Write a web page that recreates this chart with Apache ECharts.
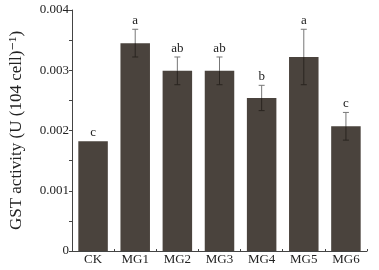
<!DOCTYPE html>
<html><head><meta charset="utf-8">
<script src="https://cdn.jsdelivr.net/npm/echarts@6/dist/echarts.min.js"></script>
<style>html,body{margin:0;padding:0;background:#fff}#c{width:379px;height:270px}</style>
</head><body><div id="c"></div>
<script>
var categories = ['CK','MG1','MG2','MG3','MG4','MG5','MG6'];
var values = [0.00182, 0.00345, 0.00299, 0.00299, 0.00254, 0.00322, 0.00207];
var errors = [0, 0.00023, 0.00023, 0.00023, 0.00021, 0.00046, 0.00023];
var letters = ['c','a','ab','ab','b','a','c'];
var yTicks = [0, 0.001, 0.002, 0.003, 0.004];

var chart = echarts.init(document.getElementById('c'));
var font = '"Liberation Serif","DejaVu Serif",serif';
chart.setOption({
  animation:false,
  grid:{left:67,right:12,top:10,bottom:19},
  xAxis:{type:'category',data:categories,
    axisLine:{lineStyle:{color:'#444',width:1}},
    axisTick:{show:true,inside:true,length:2,lineStyle:{color:'#444'}},
    axisLabel:{color:'#222',fontFamily:font,fontSize:13,margin:2}},
  yAxis:{type:'value',min:0,max:0.004,interval:0.001,
    name:'GST activity (U (104 cell)\u207B\u00B9)',nameLocation:'middle',nameGap:47,
    nameTextStyle:{color:'#222',fontFamily:font,fontSize:17},
    axisLine:{show:true,lineStyle:{color:'#444',width:1}},
    axisTick:{show:true,length:3,lineStyle:{color:'#444'}},
    minorTick:{show:true,splitNumber:2,length:3,lineStyle:{color:'#444'}},
    splitLine:{show:false},
    axisLabel:{color:'#222',fontFamily:font,fontSize:13,margin:3,
      formatter:function(v){return v===0?'0':v.toFixed(3);}}},
  series:[
    {type:'bar',data:values,barWidth:'70%',itemStyle:{color:'#4a433d'},z:2},
    {type:'custom',z:3,
     data:values.map(function(v,i){return [i,v,errors[i],letters[i]];}),
     renderItem:function(params,api){
       var i=api.value(0),v=api.value(1),e=api.value(2);
       var p=api.coord([i,v]);var hi=api.coord([i,v+e]);var lo=api.coord([i,v-e]);
       var ch=[];
       if(e>0){
         ch.push({type:'line',shape:{x1:p[0],y1:hi[1],x2:p[0],y2:p[1]},style:{stroke:'#777',lineWidth:1}});
         ch.push({type:'line',shape:{x1:p[0],y1:p[1],x2:p[0],y2:lo[1]},style:{stroke:'#2a2520',lineWidth:1}});
         ch.push({type:'line',shape:{x1:p[0]-3,y1:hi[1],x2:p[0]+3,y2:hi[1]},style:{stroke:'#777',lineWidth:1}});
         ch.push({type:'line',shape:{x1:p[0]-3,y1:lo[1],x2:p[0]+3,y2:lo[1]},style:{stroke:'#2a2520',lineWidth:1}});
       }
       ch.push({type:'text',style:{text:letters[params.dataIndex],x:p[0],y:hi[1]-2,
         textAlign:'center',textVerticalAlign:'bottom',fill:'#222',font:'13px '+font}});
       return {type:'group',children:ch};
     }}
  ]
});
</script></body></html>
